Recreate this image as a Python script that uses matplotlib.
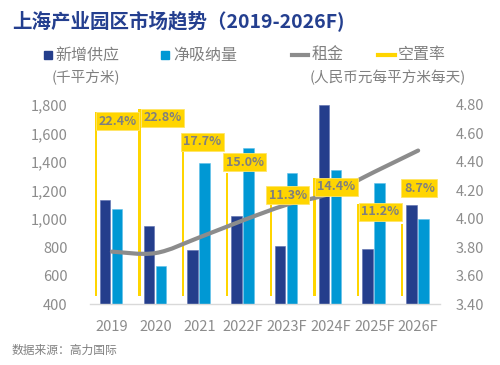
import numpy as np
import matplotlib
matplotlib.use("Agg")
import matplotlib.pyplot as plt
from matplotlib.path import Path
from matplotlib.patches import PathPatch, Rectangle
from matplotlib.lines import Line2D
from matplotlib.ticker import FuncFormatter

plt.rcParams['font.family'] = ['Noto Sans CJK SC', 'DejaVu Sans']

# ---- data ----
years = ["2019", "2020", "2021", "2022F", "2023F", "2024F", "2025F", "2026F"]
new_supply = [1130, 950, 780, 1020, 810, 1800, 790, 1095]
net_absorption = [1070, 670, 1390, 1500, 1320, 1340, 1250, 1000]
rent = [3.77, 3.76, 3.87, 3.99, 4.10, 4.18, 4.33, 4.48]
vacancy = [22.4, 22.8, 17.7, 15.0, 11.3, 14.4, 11.2, 8.7]
vacancy_labels = ["22.4%", "22.8%", "17.7%", "15.0%", "11.3%", "14.4%", "11.2%", "8.7%"]

# label offsets (pixels) relative to the top of each vacancy line (positive = up)
label_dx = [22, 23, 19, 18, 17, 22, 22, 17.5]
label_dy = [-9, -9, 9, 10.5, 8, -9, -8, 36]

DARK = '#243E8C'
LIGHT = '#0098D4'
GRAY = '#8C8C8C'
YEL = '#FFD500'
TXT = '#808080'

fig = plt.figure(figsize=(5, 3.65), dpi=100)
ax = fig.add_axes([0.18, 60.7 / 365, 0.70, (304.3 - 105) / 365])
ax3 = ax.twinx()
ax2 = ax.twinx()

x = np.arange(len(years))
w = 0.24
ax.bar(x - 0.156, new_supply, width=w, color=DARK, edgecolor='#5A6CAE', linewidth=0.4, zorder=2)
ax.bar(x + 0.122, net_absorption, width=w, color=LIGHT, edgecolor='#5FC0EA', linewidth=0.4, zorder=2)
ax.set_ylim(400, 1800)
ax.set_xlim(-0.5, len(years) - 0.5)
ax.set_yticks(np.arange(400, 1801, 200))
ax.yaxis.set_major_formatter(FuncFormatter(lambda v, p: f"{v:,.0f}"))
ax.set_xticks(x)
ax.set_xticklabels(years)
for s in ['top', 'left', 'right']:
    ax.spines[s].set_visible(False)
ax.spines['bottom'].set_color('#D9D9D9')
ax.spines['bottom'].set_linewidth(1)
ax.tick_params(axis='y', length=0, pad=16, labelsize=10.5, labelcolor=GRAY)
ax.tick_params(axis='x', length=0, pad=11, labelsize=10.5, labelcolor=GRAY)

# vacancy thin bars
ax3.bar(x - 0.37, vacancy, width=0.05, color=YEL, linewidth=0, zorder=2)
ax3.set_ylim(-1.04, 23.27)
ax3.axis('off')

# rent smooth line
ax2.set_ylim(3.40, 4.80)
ax2.set_yticks(np.arange(3.40, 4.81, 0.20))
ax2.yaxis.set_major_formatter(FuncFormatter(lambda v, p: f"{v:.2f}"))
ax2.tick_params(axis='y', length=0, pad=11, labelsize=10.5, labelcolor=GRAY)
for s in ax2.spines.values():
    s.set_visible(False)
pts = np.column_stack([x, rent]).astype(float)
n = len(pts)
verts = [pts[0]]
codes = [Path.MOVETO]
for i in range(n - 1):
    pp = pts[max(i - 1, 0)]
    pn = pts[min(i + 2, n - 1)]
    c1 = pts[i] + (pts[i + 1] - pp) / 6
    c2 = pts[i + 1] - (pn - pts[i]) / 6
    verts += [c1, c2, pts[i + 1]]
    codes += [Path.CURVE4] * 3
ax2.add_patch(PathPatch(Path(verts, codes), fill=False, edgecolor=GRAY, lw=3, capstyle='round', zorder=3))

# vacancy labels
for i, (v, lab) in enumerate(zip(vacancy, vacancy_labels)):
    ax2.annotate(lab, xy=(x[i] - 0.37, v), xycoords=ax3.transData,
                 xytext=(label_dx[i], label_dy[i]), textcoords='offset pixels',
                 ha='center', va='center', fontsize=9, fontweight='bold', color='#7F7F7F',
                 bbox=dict(boxstyle='square,pad=0.2', fc=YEL, ec='#FFE566', lw=0.6),
                 zorder=5, annotation_clip=False)

# title
fig.text(12 / 500, 1 - 21 / 365, "上海产业园区市场趋势（2019-2026F)", fontsize=14, fontweight='bold',
         color='#243F8F', ha='left', va='center')

# legend (manual)
def fy(py):
    return 1 - py / 365

def fx(px):
    return px / 500

fig.patches.append(Rectangle((fx(44), fy(59)), 8 / 500, 8 / 365, transform=fig.transFigure, color=DARK))
fig.text(fx(55), fy(55), "新增供应", fontsize=11.5, color=TXT, ha='left', va='center')
fig.text(fx(52), fy(77), "(千平方米)", fontsize=10.5, color=TXT, ha='left', va='center')
fig.patches.append(Rectangle((fx(161), fy(59)), 8 / 500, 8 / 365, transform=fig.transFigure, color=LIGHT))
fig.text(fx(173), fy(55), "净吸纳量", fontsize=11.5, color=TXT, ha='left', va='center')
fig.lines.append(Line2D([fx(292), fx(308)], [fy(55), fy(55)], transform=fig.transFigure, color=GRAY, lw=3))
fig.text(fx(312), fy(55), "租金", fontsize=11.5, color=TXT, ha='left', va='center')
fig.lines.append(Line2D([fx(378), fx(395)], [fy(55), fy(55)], transform=fig.transFigure, color=YEL, lw=3))
fig.text(fx(398), fy(55), "空置率", fontsize=11.5, color=TXT, ha='left', va='center')
fig.text(fx(310), fy(77), "(人民币元每平方米每天)", fontsize=10.5, color=TXT, ha='left', va='center')

fig.text(fx(12), fy(350), "数据来源：高力国际", fontsize=8.5, color=TXT, ha='left', va='center')

fig.savefig("out.png", dpi=100)
